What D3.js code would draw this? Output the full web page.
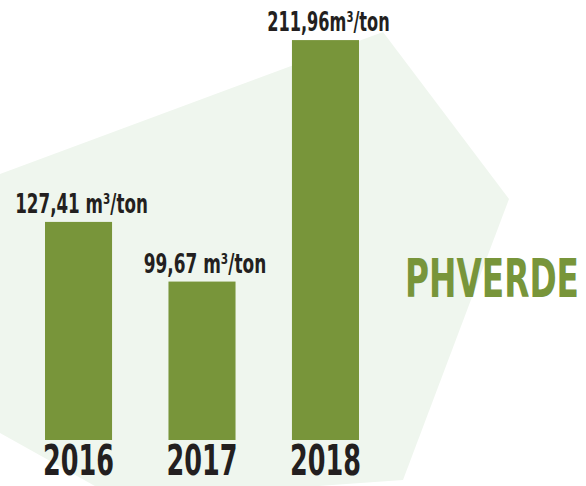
<!DOCTYPE html>
<html>
<head>
<meta charset="utf-8">
<script src="https://cdn.jsdelivr.net/npm/d3@7"></script>
<style>
  html, body { margin: 0; padding: 0; background: #fff; }
  svg { display: block; }
  text { font-family: "Liberation Sans Narrow", "DejaVu Sans Condensed", "Roboto", sans-serif; }
</style>
</head>
<body>
<div id="chart"></div>
<script>
// chart data
var years  = ["2016", "2017", "2018"],
		values = [127.41, 99.67, 211.96],
		labels = ["127,41 m³/ton", "99,67 m³/ton", "211,96m³/ton"];

var width  = 586,
		height = 486,
		green  = "#78953a",
		ink    = "#231f20";

var svg = d3.select("#chart")
	.append("svg")
		.attr("width", width)
		.attr("height", height);

// pale background shape behind the bars
var shape = [[0, 174], [383, 32], [509, 199], [403, 480], [120, 500], [0, 433]];
svg.append("path")
	.attr("d", d3.line().curve(d3.curveLinearClosed)(shape))
	.attr("fill", "#eff6ee");

var x = d3.scaleBand()
	.domain(years)
	.range([45, 359])
	.paddingInner(0.457)
	.paddingOuter(0);

// bars in the picture are not drawn from zero, so the domain starts above it
var y = d3.scaleLinear()
	.domain([26, 212])
	.range([440, 40]);

var bars = svg.append("g").attr("class", "bars");

bars.selectAll("rect")
	.data(values)
	.enter()
	.append("rect")
		.attr("x", function(d, i) { return x(years[i]); })
		.attr("y", function(d) { return y(d); })
		.attr("width", x.bandwidth())
		.attr("height", function(d) { return y.range()[0] - y(d); })
		.attr("fill", green);

// value labels above each bar (squeezed, the original face is condensed)
bars.selectAll("text.value")
	.data(values)
	.enter()
	.append("text")
		.attr("class", "value")
		.attr("x", function(d, i) { return x(years[i]) + x.bandwidth()/2 + 3; })
		.attr("y", function(d) { return y(d) - 9; })
		.attr("text-anchor", "middle")
		.attr("font-size", 26)
		.attr("font-weight", "bold")
		.attr("textLength", function(d, i) { return labels[i].length * 10.2; })
		.attr("lengthAdjust", "spacingAndGlyphs")
		.attr("fill", ink)
		.text(function(d, i) { return labels[i]; });

// year labels along the bottom edge
bars.selectAll("text.year")
	.data(years)
	.enter()
	.append("text")
		.attr("class", "year")
		.attr("x", function(d) { return x(d) + x.bandwidth()/2; })
		.attr("y", 475)
		.attr("text-anchor", "middle")
		.attr("font-size", 42)
		.attr("font-weight", "bold")
		.attr("textLength", 71)
		.attr("lengthAdjust", "spacingAndGlyphs")
		.attr("fill", ink)
		.text(function(d) { return d; });

// brand name, narrowed with a transform so its box really ends inside the page
var brand = svg.append("text")
	.attr("font-size", 54)
	.attr("font-weight", "bold")
	.attr("fill", green)
	.text("PHVERDE");

var sx = 174 / brand.node().getComputedTextLength();
brand.attr("transform", "translate(405,297) scale(" + sx + ",1)");
</script>
</body>
</html>
